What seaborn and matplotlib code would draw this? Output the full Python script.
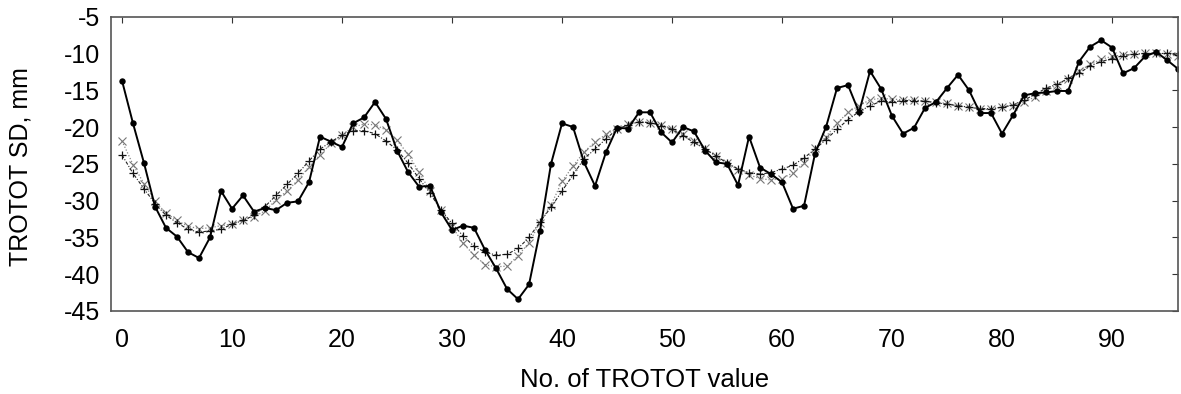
import numpy as np
import pandas as pd
import matplotlib
matplotlib.use("Agg")
import matplotlib.pyplot as plt
import seaborn as sns

measured = [-13.7, -19.5, -24.9, -30.8, -33.7, -34.9, -37.0, -37.8, -35.0, -28.7,
            -31.1, -29.3, -31.5, -31.0, -31.3, -30.3, -30.1, -27.5, -21.3, -22.0,
            -22.7, -19.5, -18.7, -16.6, -18.9, -23.2, -26.1, -28.1, -28.0, -31.6,
            -34.0, -33.4, -33.7, -36.7, -39.2, -42.0, -43.4, -41.4, -34.1, -25.0,
            -19.5, -20.0, -24.8, -28.0, -23.4, -20.1, -20.2, -18.0, -18.0, -20.7,
            -22.1, -20.0, -20.6, -23.2, -24.8, -25.0, -27.9, -21.3, -25.5, -26.4,
            -27.5, -31.1, -30.7, -23.6, -20.0, -14.7, -14.3, -18.0, -12.4, -14.8,
            -18.5, -20.9, -20.1, -17.4, -16.6, -14.7, -12.9, -15.0, -18.1, -18.1,
            -20.9, -18.4, -15.7, -15.4, -15.3, -15.1, -15.1, -11.1, -9.1, -8.2,
            -9.2, -12.7, -12.0, -10.4, -9.8, -10.9, -12.1]

smooth_x = [-21.9, -25.1, -27.7, -30.1, -31.7, -32.7, -33.5, -33.8, -33.7, -33.4,
            -33.2, -32.6, -32.2, -31.4, -29.9, -28.7, -27.2, -25.4, -23.8, -22.2,
            -21.1, -20.0, -19.6, -19.7, -20.4, -21.8, -23.7, -26.1, -28.7, -31.3,
            -33.5, -35.8, -37.4, -38.7, -39.0, -38.9, -37.5, -35.7, -33.0, -30.6,
            -27.4, -25.3, -23.4, -22.0, -21.0, -20.2, -19.6, -19.3, -19.4, -19.7,
            -20.2, -21.0, -21.9, -22.9, -24.0, -24.9, -25.8, -26.5, -27.0, -27.2,
            -27.0, -26.2, -24.9, -22.9, -21.3, -19.5, -18.0, -17.1, -16.3, -16.1,
            -16.2, -16.3, -16.3, -16.5, -16.6, -16.8, -17.1, -17.3, -17.6, -17.6,
            -17.3, -17.1, -16.6, -15.9, -15.1, -14.3, -13.5, -12.4, -11.5, -10.8,
            -10.4, -10.2, -10.1, -10.0, -10.0, -10.1, -10.4]

smooth_plus = [-23.8, -26.3, -28.4, -30.4, -32.0, -33.0, -33.9, -34.3, -34.1, -33.9,
               -33.2, -32.7, -32.0, -30.8, -29.3, -27.8, -26.3, -24.6, -23.0, -22.0,
               -21.1, -20.5, -20.5, -20.9, -21.9, -23.1, -24.9, -27.0, -29.0, -31.3,
               -33.1, -34.8, -36.2, -37.0, -37.4, -37.3, -36.5, -35.0, -32.9, -30.9,
               -28.7, -26.5, -24.3, -23.0, -21.6, -20.3, -19.7, -19.3, -19.4, -19.8,
               -20.3, -21.2, -22.1, -23.0, -23.9, -24.9, -25.7, -26.2, -26.4, -26.2,
               -25.7, -25.2, -24.2, -23.0, -21.7, -20.3, -19.0, -17.9, -17.1, -16.5,
               -16.6, -16.4, -16.4, -16.5, -16.7, -16.9, -17.1, -17.3, -17.5, -17.5,
               -17.3, -17.0, -16.3, -15.6, -14.7, -14.2, -13.4, -12.7, -11.7, -11.1,
               -10.7, -10.3, -10.1, -10.0, -10.0, -10.0, -10.2]

index = list(range(len(measured)))
x_ticks = [0, 10, 20, 30, 40, 50, 60, 70, 80, 90]
y_ticks = [-45, -40, -35, -30, -25, -20, -15, -10, -5]

sns.set_theme(style="white")
plt.rcParams['font.family'] = ['Liberation Sans', 'DejaVu Sans']
plt.rcParams['axes.unicode_minus'] = False
plt.rcParams['text.color'] = 'black'
plt.rcParams['axes.labelcolor'] = 'black'

fig = plt.figure(figsize=(11.81, 3.94), dpi=100)
ax = fig.add_axes([0.094, 0.2107, 0.9035, 0.747])

sns.lineplot(x=index, y=smooth_x, ax=ax, color="#888888", linestyle=(0, (1, 1.5)),
             linewidth=0.9, marker="x", markersize=5.5, markeredgewidth=0.8,
             markeredgecolor="#777777", markerfacecolor="#777777")
sns.lineplot(x=index, y=smooth_plus, ax=ax, color="#222222", linestyle=(0, (3, 1.5, 1, 1.5)),
             linewidth=0.8, marker="+", markersize=6, markeredgewidth=0.9,
             markeredgecolor="#111111")
sns.lineplot(x=index, y=measured, ax=ax, color="black", linewidth=1.4,
             marker="o", markersize=4.6, markeredgewidth=0, markerfacecolor="black")

ax.set_xlim(-1, 96)
ax.set_ylim(-45, -5)
ax.set_xticks(x_ticks)
ax.set_yticks(y_ticks)
ax.tick_params(axis="both", direction="in", length=4, width=0.8, color="#333333",
               labelsize=18, top=True, right=True, labelcolor="black")
ax.tick_params(axis="x", pad=12)
ax.tick_params(axis="y", pad=8)
for s in ax.spines.values():
    s.set_color("#555555")
    s.set_linewidth(1.2)
ax.set_xlabel("No. of TROTOT value", fontsize=18.5, color="black")
ax.set_ylabel("TROTOT SD, mm", fontsize=18, color="black")
ax.xaxis.set_label_coords(0.5, -0.195)
ax.yaxis.set_label_coords(-0.074, 0.49)

fig.savefig("out.png", dpi=100)
